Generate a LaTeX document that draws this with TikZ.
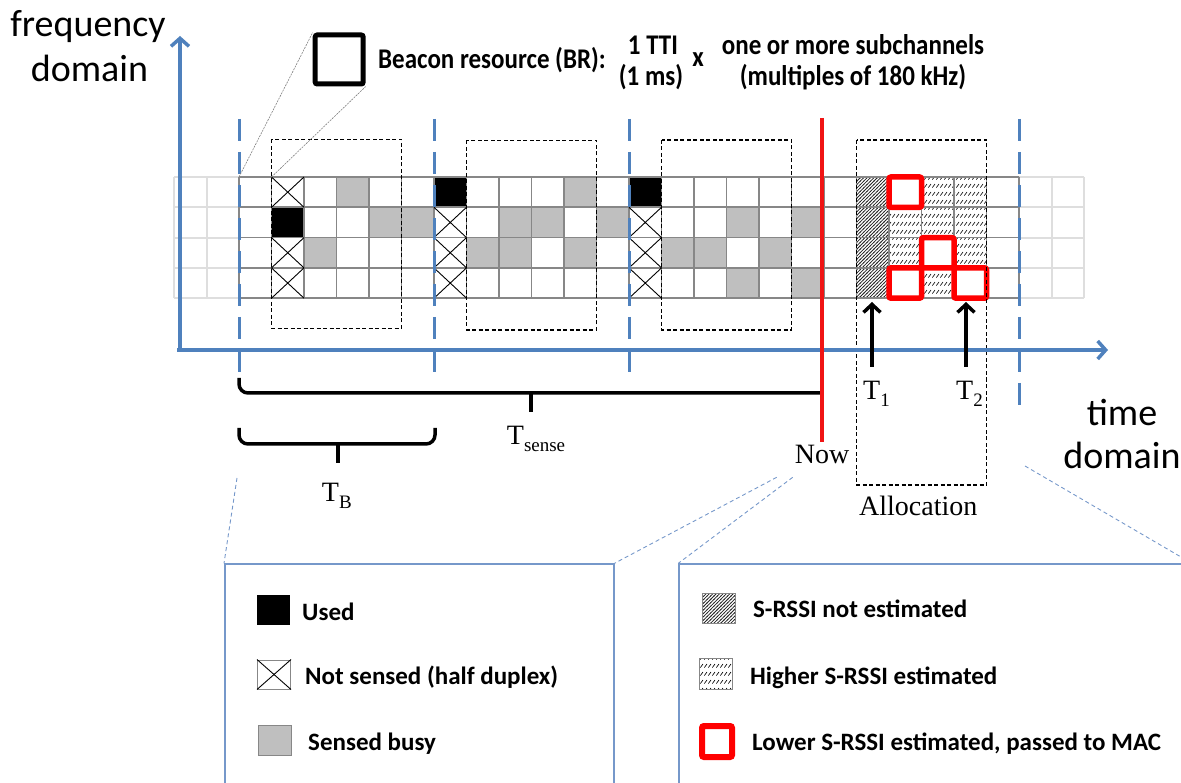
\documentclass[tikz,border=0pt]{standalone}
\usepackage{fontspec}
\setmainfont{Carlito}
\newfontfamily\tms{Liberation Serif}
\usetikzlibrary{arrows.meta,patterns}
\definecolor{axblue}{RGB}{79,129,189}
\definecolor{lgblue}{RGB}{118,152,202}
\definecolor{cellgray}{RGB}{191,191,191}
\definecolor{gridgray}{RGB}{135,135,135}
\definecolor{fadegray}{RGB}{222,222,222}
\definecolor{nowred}{RGB}{240,20,20}
\pgfdeclarepatternformonly{densehatch}{\pgfpoint{-1pt}{-1pt}}{\pgfpoint{4.5pt}{4.5pt}}{\pgfpoint{3.4pt}{3.4pt}}{%
  \pgfsetlinewidth{0.75pt}\pgfpathmoveto{\pgfpoint{-0.5pt}{-0.5pt}}\pgfpathlineto{\pgfpoint{3.9pt}{3.9pt}}\pgfusepath{stroke}}
\pgfdeclarepatternformonly{slashrows}{\pgfpoint{0pt}{0pt}}{\pgfpoint{4pt}{7.5pt}}{\pgfpoint{4pt}{7.5pt}}{%
  \pgfsetlinewidth{0.7pt}\pgfpathmoveto{\pgfpoint{0.4pt}{1.5pt}}\pgfpathlineto{\pgfpoint{3.6pt}{5.2pt}}\pgfusepath{stroke}}
\newcommand\tsub[1]{\raisebox{-6.5pt}{\fontsize{19}{19}\selectfont #1}}
\begin{document}
\begin{tikzpicture}[x=1pt,y=-1pt,
  fadeline/.style={draw=fadegray,line width=2pt},
  gridline/.style={draw=gridgray,line width=1.8pt},
  xline/.style={draw=black,line width=0.9pt},
  redbox/.style={draw=red,line width=5.5pt,rounded corners=2pt},
  dashbox/.style={draw=black,line width=1.4pt,dash pattern=on 4pt off 2.5pt},
  bluedash/.style={draw=axblue,line width=3pt,dash pattern=on 22pt off 11pt},
  axis/.style={draw=axblue,line width=3.5pt,-{Straight Barb[length=8pt,width=18pt]}},
  nowline/.style={draw=nowred,line width=4pt},
  brace/.style={draw=black,line width=3.5pt,rounded corners=9pt},
  tarrow/.style={draw=black,line width=3.5pt,-{Straight Barb[length=8pt,width=17pt]}},
  zoomgray/.style={draw=gray,line width=0.6pt,dash pattern=on 2pt off 1pt},
  zoomblue/.style={draw=lgblue,line width=0.9pt,dash pattern=on 4pt off 3pt},
  legbox/.style={draw=lgblue,line width=1.5pt,inner sep=0pt,anchor=north west},
  btxt/.style={font=\bfseries\fontsize{25}{30}\selectfont,inner sep=0pt},
  ltxt/.style={font=\bfseries\fontsize{25}{30}\selectfont,inner sep=0pt,anchor=base west},
  axtxt/.style={font=\fontsize{38}{44}\selectfont,inner sep=0pt,anchor=base},
  serif/.style={font=\tms\fontsize{28}{30}\selectfont,inner sep=0pt},
  icon/.style={inner sep=0pt,minimum width=33pt,minimum height=30pt}
]
\useasboundingbox (0,0) rectangle (1181,783);

% faded grid parts
\foreach \xx in {174,206.5,1051.5,1084} \draw[fadeline] (\xx,177) -- (\xx,298.2);
\foreach \r in {0,...,4} {
  \draw[fadeline] (174,{177+30.3*\r}) -- (239,{177+30.3*\r});
  \draw[fadeline] (1019,{177+30.3*\r}) -- (1084,{177+30.3*\r});
}

% cell fills
\foreach \c/\r in {4/2,5/0,6/1,7/1,9/2,10/1,10/2,11/1,12/0,12/2,13/1,15/2,16/2,17/1,17/3,18/2,19/1,19/3}
  \fill[cellgray] ({174+32.5*\c},{177+30.3*\r}) rectangle ++(32.5,30.3);
\foreach \c/\r in {3/1,8/0,14/0}
  \fill[black] ({174+32.5*\c},{177+30.3*\r}) rectangle ++(32.5,30.3);
\foreach \r in {0,...,3}
  \fill[pattern=densehatch,pattern color=black!85] ({174+32.5*21},{177+30.3*\r}) rectangle ++(32.5,30.3);
\foreach \c/\r in {22/1,22/2,23/0,23/1,23/3,24/0,24/1,24/2}
  \fill[pattern=slashrows,pattern color=black] ({174+32.5*\c},{177+30.3*\r}) rectangle ++(32.5,30.3);

% grid lines
\foreach \c in {2,...,26} \draw[gridline] ({174+32.5*\c},177) -- ({174+32.5*\c},298.2);
\foreach \r in {0,...,4} \draw[gridline] (239,{177+30.3*\r}) -- (1019,{177+30.3*\r});

% not sensed cells
\foreach \c/\r in {3/0,3/2,3/3,8/1,8/2,8/3,14/1,14/2,14/3}
  \draw[xline] ({174+32.5*\c},{177+30.3*\r}) -- ++(32.5,30.3) ++(-32.5,0) -- ++(32.5,-30.3);

% red boxes
\foreach \c/\r in {22/0,23/2,22/3,24/3}
  \draw[redbox,fill=white] ({174+32.5*\c},{177+30.3*\r}) rectangle ++(32.5,30.3);

% dashed windows
\draw[dashbox] (271.5,139.5) rectangle (401.5,328.5);
\draw[dashbox] (466.5,140.5) rectangle (596.5,330);
\draw[dashbox] (661.5,140) rectangle (791.5,330);
\draw[dashbox] (856.5,140) rectangle (986.5,485);

% blue dashed separators
\foreach \xx in {239,434,629} \draw[bluedash] (\xx,119) -- (\xx,378);
\draw[bluedash] (1019,119) -- (1019,408);

% axes
\coordinate (org) at (180,350);
\coordinate (ytip) at (180,36);
\coordinate (xorg) at (177,350);
\coordinate (xtip) at (1108,350);
\draw[axis] (org) -- (ytip);
\draw[axis] (xorg) -- (xtip);

% beacon resource
\node[draw=black,line width=5pt,minimum width=48pt,minimum height=49pt,inner sep=0pt,rounded corners=2pt] (br) at (339.2,59.5) {};
\coordinate (c2top) at (239,177);
\coordinate (c3top) at (271.5,177);
\draw[zoomgray] (c2top) -- (br.north west);
\draw[zoomgray] (c3top) -- (br.south east);
\node[btxt,anchor=base west] (brlabel) at (378,68.3) {\scalebox{1}[1.14]{Beacon resource (BR):}};
\node[btxt,anchor=base] (tti) at (653,54.5) {\scalebox{1}[1.14]{1 TTI}};
\node[btxt,anchor=base] (ms) at (651,85.7) {\scalebox{1}[1.14]{(1 ms)}};
\node[btxt,anchor=base] (times) at (698,67) {\scalebox{1}[1.14]{x}};
\node[btxt,anchor=base] (sub1) at (853,54.5) {\scalebox{1}[1.14]{one or more subchannels}};
\node[btxt,anchor=base] (sub2) at (853,85.7) {\scalebox{1}[1.14]{(multiples of 180 kHz)}};

% axis labels
\node[axtxt] (fd1) at (88,37) {frequency};
\node[axtxt] (fd2) at (89.5,82) {domain};
\node[axtxt] (td1) at (1122,425) {time};
\node[axtxt] (td2) at (1122,468.3) {domain};

% braces
\coordinate (bs1) at (239,378);
\coordinate (bs2) at (822,393);
\coordinate (bsm) at (531,392);
\coordinate (bstip) at (531,412);
\draw[brace] (bs1) |- (bs2);
\draw[brace] (bsm) -- (bstip);
\coordinate (tb1) at (239,428);
\coordinate (tb2) at (435,444);
\coordinate (tb3) at (435,428);
\coordinate (tbm) at (338,443);
\coordinate (tbtip) at (338,463);
\draw[brace] (tb1) |- (tb2) -- (tb3);
\draw[brace] (tbm) -- (tbtip);

% now line
\coordinate (nowtop) at (822,118);
\coordinate (nowbot) at (822,442);
\draw[nowline] (nowtop) -- (nowbot);

% T1 T2 arrows
\coordinate (t1s) at (872,367);
\coordinate (t1e) at (872,302);
\coordinate (t2s) at (966,367);
\coordinate (t2e) at (966,302);
\draw[tarrow] (t1s) -- (t1e);
\draw[tarrow] (t2s) -- (t2e);

% serif labels
\node[serif,anchor=base] (now) at (822,463.3) {Now};
\node[serif,anchor=base] (alloc) at (918.3,515) {Allocation};
\node[serif,anchor=base west] (t1) at (863,400) {T\tsub{1}};
\node[serif,anchor=base west] (t2) at (956,400) {T\tsub{2}};
\node[serif,anchor=base west] (tsense) at (506.7,445) {T\tsub{sense}};
\node[serif,anchor=base west] (tb) at (321.7,501.7) {T\tsub{B}};

% legend boxes
\node[legbox,minimum width=389pt,minimum height=240pt] (legL) at (224,563.3) {};
\node[legbox,minimum width=512pt,minimum height=240pt] (legR) at (678.3,563.3) {};
\coordinate (zL) at (237,478);
\coordinate (zN1) at (776.7,477.3);
\coordinate (zN2) at (792.7,477.3);
\coordinate (zR) at (1025,466);
\draw[zoomblue] (zL) -- (legL.north west);
\draw[zoomblue] (zN1) -- (legL.north east);
\draw[zoomblue] (zN2) -- (legR.north west);
\draw[zoomblue] (zR) -- (legR.north east);

% left legend
\node[icon,fill=black] (iused) at (273.5,610) {};
\node[ltxt] (tused) at (302,620) {Used};
\node[icon,draw=gridgray,line width=1pt,fill=white,minimum width=33pt,minimum height=29pt] (inot) at (274,674.5) {};
\draw[xline] (inot.north west) -- (inot.south east);
\draw[xline] (inot.south west) -- (inot.north east);
\node[ltxt] (tnot) at (305,684) {Not sensed (half duplex)};
\node[icon,draw=gridgray,line width=1pt,fill=cellgray] (ibusy) at (275,740) {};
\node[ltxt] (tbusy) at (308,750.7) {Sensed busy};

% right legend
\node[icon,draw=gridgray,line width=1pt,pattern=densehatch,pattern color=black!85] (idense) at (718.5,608) {};
\node[ltxt] (tdense) at (753,617.7) {S-RSSI not estimated};
\node[icon,draw=gridgray,line width=1pt,pattern=slashrows,pattern color=black,minimum height=31pt] (ilight) at (716,673.5) {};
\node[ltxt] (tlight) at (750,684) {Higher S-RSSI estimated};
\node[draw=red,line width=6pt,fill=white,inner sep=0pt,minimum width=30pt,minimum height=31pt,rounded corners=2pt] (ired) at (717,741.5) {};
\node[ltxt] (tred) at (752,750.7) {Lower S-RSSI estimated, passed to MAC};
\end{tikzpicture}
\end{document}
